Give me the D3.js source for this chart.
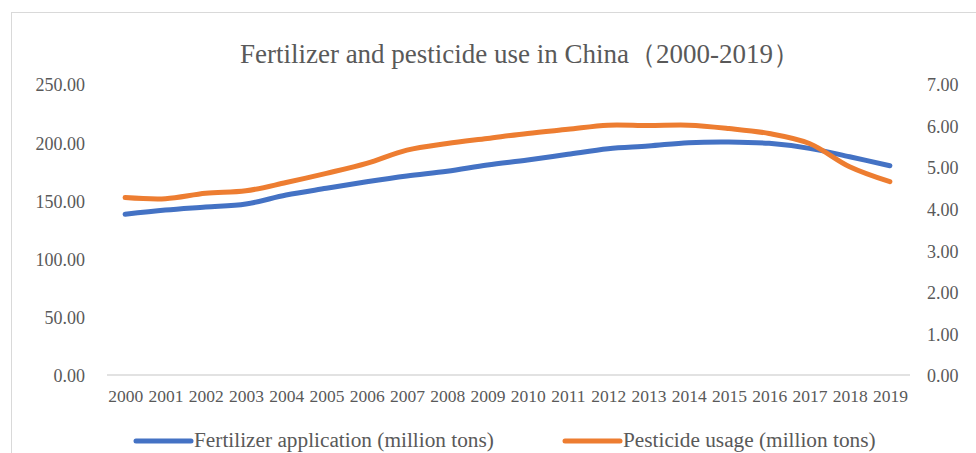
<!DOCTYPE html>
<html><head><meta charset="utf-8">
<script src="https://cdn.jsdelivr.net/npm/d3@7"></script>
<style>body{margin:0;background:#fff}svg{display:block}text{font-family:"Liberation Serif","Times New Roman",serif;fill:#595959}</style>
</head><body>
<svg id="c" width="976" height="453"></svg>
<script>
const years = ["2000","2001","2002","2003","2004","2005","2006","2007","2008","2009","2010","2011","2012","2013","2014","2015","2016","2017","2018","2019"];
const fertilizer = [138.1,141.7,144.3,146.9,154.6,160.4,166.0,171.0,175.0,180.4,184.7,189.6,194.4,196.7,199.6,200.2,199.0,194.7,187.5,179.8];
const pesticide = [4.27,4.24,4.37,4.43,4.63,4.85,5.09,5.41,5.57,5.69,5.81,5.91,6.01,6.00,6.01,5.93,5.81,5.57,5.01,4.65];
const leftTicks = [0,50,100,150,200,250];
const rightTicks = [0,1,2,3,4,5,6,7];
const title = "Fertilizer and pesticide use in China（2000-2019）";
const seriesNames = ["Fertilizer application (million tons)","Pesticide usage (million tons)"];
const colors = ["#4472C4","#ED7D31"];

const svg = d3.select("#c");
svg.append("rect").attr("x",11.5).attr("y",12.5).attr("width",1000).attr("height",1000)
  .attr("fill","none").attr("stroke","#d9d9d9").attr("stroke-width",1);

const x = d3.scalePoint().domain(years).range([105,910]).padding(0.5);
const yL = d3.scaleLinear().domain([0,250]).range([375,84]);
const yR = d3.scaleLinear().domain([0,7]).range([375,84]);

svg.append("text").attr("x",520).attr("y",63).attr("text-anchor","middle")
  .style("font-size","27px").text(title);

// baseline
svg.append("line").attr("x1",107).attr("x2",910).attr("y1",375).attr("y2",375)
  .attr("stroke","#d9d9d9").attr("stroke-width",1.3);

const gL = svg.append("g").attr("transform","translate(85,0)")
  .call(d3.axisLeft(yL).tickValues(leftTicks).tickFormat(d3.format(".2f")).tickSize(0).tickPadding(0));
const gR = svg.append("g").attr("transform","translate(927,0)")
  .call(d3.axisRight(yR).tickValues(rightTicks).tickFormat(d3.format(".2f")).tickSize(0).tickPadding(0));
const gX = svg.append("g").attr("transform","translate(0,375)")
  .call(d3.axisBottom(x).tickSize(0).tickPadding(15));
[gL,gR,gX].forEach(g=>{g.select(".domain").remove();
  g.selectAll("text").style("font-size","18px").style("font-family",'"Liberation Serif",serif').attr("fill","#595959");});
gX.selectAll("text").style("font-size","17.5px");
[gL,gR].forEach(g=>g.selectAll("text").attr("dy","0.38em"));

const line1 = d3.line().x((d,i)=>x(years[i])).y(d=>yL(d)).curve(d3.curveCatmullRom.alpha(0.5));
const line2 = d3.line().x((d,i)=>x(years[i])).y(d=>yR(d)).curve(d3.curveCatmullRom.alpha(0.5));
svg.append("path").attr("d",line1(fertilizer)).attr("fill","none").attr("stroke",colors[0])
  .attr("stroke-width",5).attr("stroke-linecap","round").attr("stroke-linejoin","round");
svg.append("path").attr("d",line2(pesticide)).attr("fill","none").attr("stroke",colors[1])
  .attr("stroke-width",5).attr("stroke-linecap","round").attr("stroke-linejoin","round");

const legX = [136,565];
seriesNames.forEach((n,i)=>{
  svg.append("line").attr("x1",legX[i]).attr("x2",legX[i]+55).attr("y1",441).attr("y2",441)
    .attr("stroke",colors[i]).attr("stroke-width",5).attr("stroke-linecap","round");
  svg.append("text").attr("x",legX[i]+58).attr("y",447).style("font-size","21.3px").text(n);
});
</script>
</body></html>
